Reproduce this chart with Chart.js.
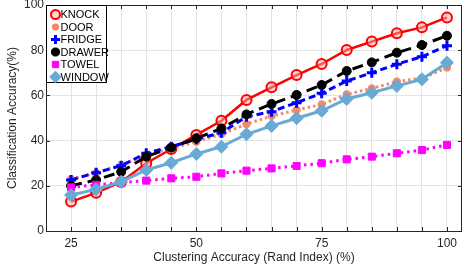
<!DOCTYPE html>
<html>
<head>
<meta charset="utf-8">
<script src="https://cdn.jsdelivr.net/npm/chart.js@4.4.1/dist/chart.umd.min.js"></script>
<style>
  html, body { margin: 0; padding: 0; background: #fff; }
  #wrap { width: 464px; height: 272px; }
</style>
</head>
<body>
<div id="wrap"><canvas id="c" width="464" height="272"></canvas></div>
<script>
// Rand index (%) — x axis
const randIndex = [25, 30, 35, 40, 45, 50, 55, 60, 65, 70, 75, 80, 85, 90, 95, 100];

// classification accuracy (%) per activity
const knock  = [13.0, 16.9, 21.7, 30.0, 36.3, 42.5, 48.8, 58.0, 63.6, 69.0, 73.9, 80.1, 83.8, 87.5, 90.1, 94.5];
const door   = [22.9, 25.8, 29.2, 33.6, 36.6, 39.5, 42.9, 47.3, 50.9, 53.5, 56.0, 60.5, 63.1, 66.1, 67.6, 72.3];
const fridge = [22.6, 25.8, 28.9, 34.4, 37.3, 40.6, 43.5, 50.6, 52.8, 56.8, 60.9, 66.4, 70.0, 73.8, 77.1, 82.0];
const drawer = [20.0, 22.6, 26.2, 32.9, 36.9, 41.0, 45.4, 51.6, 56.2, 60.2, 64.6, 70.8, 74.6, 78.9, 82.3, 86.4];
const towel  = [19.3, 20.4, 21.4, 22.3, 23.3, 24.0, 25.5, 26.7, 27.7, 28.8, 30.0, 31.7, 32.9, 34.4, 35.8, 38.1];
const windowAcc = [15.9, 18.4, 21.8, 27.0, 30.2, 34.1, 37.3, 42.8, 46.5, 49.9, 53.2, 58.4, 61.2, 64.2, 67.1, 74.5];

const xLabels = [25, 50, 75, 100];
const yTicks = [0, 20, 40, 60, 80, 100];

const FONT = "'Liberation Sans', Arial, Helvetica, sans-serif";
const AXIS = '#262626';

function pts(ys) {
    return randIndex.map((x, i) => ({ x, y: ys[i] }));
}

const series = [
    { label: 'KNOCK',  data: knock,  color: '#ff0000', fill: 'rgba(255,170,170,0.5)', style: 'circle',   r: 5,   bw: 2,   dash: [],      lw: 2.5 },
    { label: 'DOOR',   data: door,   color: '#f2896a', fill: '#f2896a', style: 'star',     r: 4,   bw: 3,   dash: [2.5, 3], lw: 3 },
    { label: 'FRIDGE', data: fridge, color: '#0000ff', fill: '#0000ff', style: 'cross',    r: 5,   bw: 3,   dash: [7, 4],  lw: 3 },
    { label: 'DRAWER', data: drawer, color: '#000000', fill: '#000000', style: 'circle',   r: 4.5, bw: 1,   dash: [11, 6], lw: 3 },
    { label: 'TOWEL',  data: towel,  color: '#ff00ff', fill: '#ff00ff', style: 'rect',     r: 5,   bw: 1,   dash: [2.5, 4], lw: 3 },
    { label: 'WINDOW', data: windowAcc, color: '#68aad4', fill: '#68aad4', style: 'rectRot', r: 6.5, bw: 1, dash: [],      lw: 3 },
];

// box, inner ticks and legend, MATLAB style
const matlabBox = {
    id: 'matlabBox',
    afterDraw(chart) {
        const { ctx, chartArea: a, scales } = chart;
        ctx.save();
        ctx.strokeStyle = AXIS;
        ctx.lineWidth = 1;
        ctx.beginPath();
        for (let v = 25; v <= 100; v += 5) {
            const px = Math.round(scales.x.getPixelForValue(v)) + 0.5;
            ctx.moveTo(px, a.bottom); ctx.lineTo(px, a.bottom - 4);
            ctx.moveTo(px, a.top); ctx.lineTo(px, a.top + 4);
        }
        yTicks.forEach(v => {
            const py = Math.round(scales.y.getPixelForValue(v)) + 0.5;
            ctx.moveTo(a.left, py); ctx.lineTo(a.left + 4, py);
            ctx.moveTo(a.right, py); ctx.lineTo(a.right - 4, py);
        });
        ctx.stroke();
        ctx.strokeRect(Math.round(a.left) + 0.5, Math.round(a.top) + 0.5,
            Math.round(a.right - a.left) - 1, Math.round(a.bottom - a.top));

        // legend
        const lx = Math.round(a.left) + 0.5, ly = Math.round(a.top) + 0.5;
        const lw = 60, lh = 77;
        ctx.fillStyle = '#fff';
        ctx.fillRect(lx, ly, lw, lh);
        ctx.strokeStyle = '#000';
        ctx.strokeRect(lx, ly, lw, lh);
        ctx.font = '11px ' + FONT;
        ctx.textBaseline = 'middle';
        series.forEach((s, i) => {
            const cy = ly + 9 + i * 12.5;
            ctx.fillStyle = s.fill;
            ctx.strokeStyle = s.color;
            ctx.lineWidth = s.bw;
            ctx.setLineDash([]);
            Chart.helpers.drawPoint(ctx, { pointStyle: s.style, radius: s.r * 0.9, borderWidth: s.bw, rotation: 0 }, lx + 9, cy);
            ctx.fillStyle = '#000';
            ctx.fillText(s.label, lx + 14, cy + 0.5);
        });
        ctx.restore();
    }
};

new Chart(document.getElementById('c'), {
    type: 'line',
    data: {
        datasets: series.map((s, i) => ({
            label: s.label,
            data: pts(s.data),
            borderColor: s.color,
            backgroundColor: s.fill,
            borderWidth: s.lw,
            borderDash: s.dash,
            pointStyle: s.style,
            pointRadius: s.r,
            pointBorderWidth: s.bw,
            pointBackgroundColor: s.fill,
            pointBorderColor: s.color,
            tension: 0,
            fill: false,
            order: series.length - i,
        })),
    },
    options: {
        responsive: false,
        animation: false,
        layout: { autoPadding: false, padding: { top: 5, right: 2, left: 0, bottom: 0 } },
        plugins: {
            legend: { display: false },
            tooltip: { enabled: false },
        },
        scales: {
            x: {
                type: 'linear',
                min: 20,
                max: 103,
                afterBuildTicks(scale) {
                    scale.ticks = randIndex.map(v => ({ value: v }));
                },
                afterFit(scale) {
                    scale.height = 41;
                    scale.paddingLeft = 0;
                    scale.paddingRight = 0;
                },
                grid: { color: '#e3e3e3', drawTicks: false },
                border: { display: false },
                ticks: {
                    padding: 5,
                    color: AXIS,
                    font: { family: FONT, size: 12 },
                    autoSkip: false,
                    maxRotation: 0,
                    callback: v => xLabels.includes(v) ? String(v) : '',
                },
                title: {
                    display: true,
                    text: 'Clustering Accuracy (Rand Index) (%)',
                    color: AXIS,
                    font: { family: FONT, size: 12 },
                    padding: { top: 0, bottom: 7 },
                },
            },
            y: {
                min: 0,
                max: 100,
                afterBuildTicks(scale) {
                    scale.ticks = yTicks.map(v => ({ value: v }));
                },
                afterFit(scale) {
                    scale.width = 46;
                    scale.paddingTop = 0;
                    scale.paddingBottom = 0;
                },
                grid: { color: '#e3e3e3', drawTicks: false },
                border: { display: false },
                ticks: {
                    padding: 2,
                    color: AXIS,
                    font: { family: FONT, size: 12 },
                },
                title: {
                    display: true,
                    text: 'Classification Accuracy(%)',
                    color: AXIS,
                    font: { family: FONT, size: 12 },
                    padding: { top: 5, bottom: 0 },
                },
            },
        },
    },
    plugins: [matlabBox],
});
</script>
</body>
</html>
